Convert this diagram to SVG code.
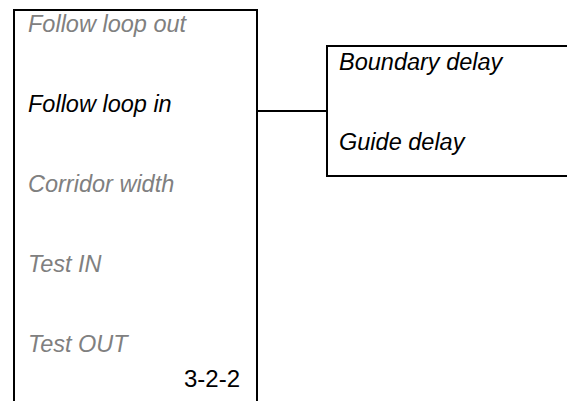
<svg xmlns="http://www.w3.org/2000/svg" width="567" height="401" viewBox="0 0 567 401">
<style>
.box{fill:#fff;stroke:#000;stroke-width:2}
.t{font-family:"Liberation Sans",Arial,sans-serif;font-size:23.5px;font-style:italic}
.g{fill:#808080}
.k{fill:#000}
.n{font-family:"Liberation Sans",Arial,sans-serif;font-size:24px;fill:#000}
.c{stroke:#000;stroke-width:2;fill:none}
</style>
<rect width="567" height="401" fill="#fff"/>
<g id="connectors">
<line class="c" x1="257" y1="111" x2="327" y2="111"/>
</g>
<g id="menu">
<path class="box" d="M14 405 V10 H257 V405"/>
<text class="t g" x="28" y="32">Follow loop out</text>
<text class="t k" x="28" y="112">Follow loop in</text>
<text class="t g" x="28" y="192">Corridor width</text>
<text class="t g" x="28" y="272">Test IN</text>
<text class="t g" x="28" y="352">Test OUT</text>
<text class="n" x="184" y="387">3-2-2</text>
</g>
<g id="submenu">
<path class="box" d="M570 46 H327 V176 H570"/>
<text class="t k" x="339" y="70">Boundary delay</text>
<text class="t k" x="339" y="150">Guide delay</text>
</g>
</svg>
